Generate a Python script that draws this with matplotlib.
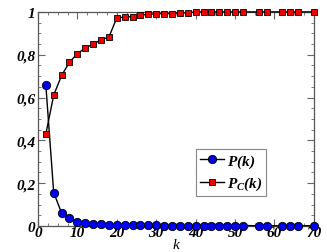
import numpy as np
import matplotlib
matplotlib.use('Agg')
import matplotlib.pyplot as plt
from matplotlib.ticker import MultipleLocator, FuncFormatter

# Data
k = [2, 4, 6, 8, 10, 12, 14, 16, 18, 20, 22, 24, 26, 28, 30, 32, 34, 36, 38,
     40, 42, 44, 46, 48, 50, 52, 56, 58, 62, 64, 66, 70]
P = [0.659, 0.156, 0.060, 0.036, 0.019, 0.013, 0.009, 0.007, 0.006, 0.005,
     0.004, 0.004, 0.003, 0.003, 0.003, 0.002, 0.002, 0.002, 0.002,
     0.002, 0.002, 0.002, 0.002, 0.002, 0.002, 0.002, 0.001, 0.001, 0.001,
     0.001, 0.001, 0.001]
Pc = [0.429, 0.611, 0.703, 0.765, 0.804, 0.832, 0.849, 0.870, 0.882, 0.972,
      0.976, 0.978, 0.984, 0.989, 0.991, 0.992, 0.992, 0.997, 0.995,
      1.0, 1.0, 1.0, 1.0, 1.0, 1.0, 1.0, 1.0, 1.0, 1.0, 1.0, 1.0, 1.0]

plt.rcParams['font.family'] = ['Liberation Serif', 'DejaVu Serif']
plt.rcParams['font.weight'] = 'bold'
plt.rcParams['font.style'] = 'italic'
plt.rcParams['mathtext.fontset'] = 'custom'
plt.rcParams['mathtext.it'] = 'Liberation Serif:bold:italic'
plt.rcParams['mathtext.rm'] = 'Liberation Serif:bold:italic'

fig = plt.figure(figsize=(3.27, 2.53), dpi=100)
ax = fig.add_axes([0.116, 0.103, 0.844, 0.846])

ax.plot(k, P, '-o', color='black', lw=1.0, marker='o', ms=6,
        mfc='#0000ee', mec='black', mew=0.6, label=r'$P(k)$', clip_on=False, zorder=3)
ax.plot(k, Pc, '-s', color='black', lw=1.0, marker='s', ms=5,
        mfc='#ee0000', mec='black', mew=0.6, label=r'$P_C(k)$', clip_on=False, zorder=3)

ax.set_xlim(0, 70)
ax.set_ylim(0, 1)
ax.xaxis.set_major_locator(MultipleLocator(10))
ax.xaxis.set_minor_locator(MultipleLocator(2.5))
ax.yaxis.set_major_locator(MultipleLocator(0.2))
ax.yaxis.set_minor_locator(MultipleLocator(0.05))


def comma_fmt(v, pos):
    s = '%g' % round(v, 2)
    return s.replace('.', ',')


ax.yaxis.set_major_formatter(FuncFormatter(comma_fmt))
ax.tick_params(which='both', direction='in', top=True, right=True,
               color='#666666', labelsize=11)
ax.tick_params(axis='x', pad=0)
ax.tick_params(axis='y', pad=2)
ax.tick_params(which='major', length=5)
ax.tick_params(which='minor', length=2.5)
for sp in ax.spines.values():
    sp.set_color('#555555')
    sp.set_linewidth(0.9)

ax.set_xlabel('k', fontsize=11, labelpad=-1)

leg = ax.legend(loc='center', bbox_to_anchor=(0.7, 0.25), fontsize=11,
                fancybox=False, edgecolor='#888888', framealpha=1,
                handlelength=1.6, handletextpad=0.2, borderpad=0.25,
                borderaxespad=0, labelspacing=0.35)
leg.get_frame().set_linewidth(0.8)

fig.savefig('out.png', dpi=100)
